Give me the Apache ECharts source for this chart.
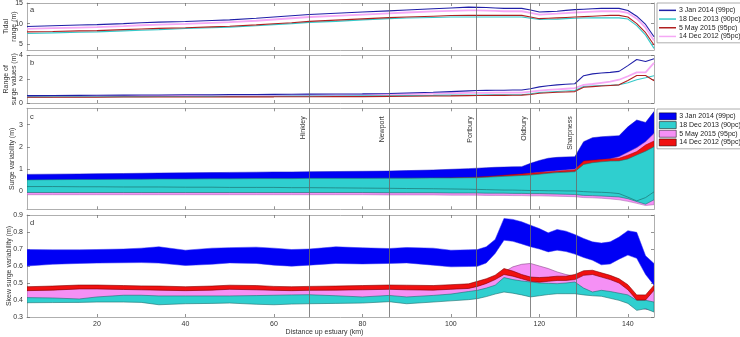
<!DOCTYPE html>
<html><head><meta charset="utf-8">
<script src="https://cdn.jsdelivr.net/npm/echarts@6/dist/echarts.min.js"></script>
<style>html,body{margin:0;padding:0;background:#fff}#c{width:740px;height:337px}</style>
</head><body><div id="c"></div>
<script>
// ---------------- data ----------------
const distanceKm = [4.2, 10, 16, 20, 26, 30, 34, 40, 46, 50, 56, 60, 64, 68, 74, 80, 86, 90, 96, 100, 104, 106, 108, 110, 112, 114, 116, 118, 120, 122, 124, 126, 128, 130, 132, 134, 136, 138, 140, 142, 144, 145.9];
const seriesNames = ['3 Jan 2014 (99pc)', '18 Dec 2013 (90pc)', '5 May 2015 (95pc)', '14 Dec 2012 (95pc)'];
const sites = ['Hinkley', 'Newport', 'Portbury', 'Oldbury', 'Sharpness'];
const siteKm = [68, 86, 105.8, 118, 128.3];
const xTicks = [20, 40, 60, 80, 100, 120, 140];
const yTicksA = [5, 10, 15];
const yTicksB = [0, 2, 4];
const yTicksC = [0, 1, 2, 3];
const yTicksD = [0.3, 0.4, 0.5, 0.6, 0.7, 0.8, 0.9];

// panel a: tidal range (m)
const tidalJan2014 = [9.3, 9.5, 9.65, 9.75, 10.0, 10.2, 10.35, 10.5, 10.75, 10.9, 11.3, 11.6, 11.9, 12.2, 12.5, 12.8, 13.1, 13.3, 13.6, 13.8, 14.0, 13.95, 13.9, 13.8, 13.7, 13.7, 13.7, 13.3, 12.8, 12.9, 13.0, 13.2, 13.4, 13.5, 13.6, 13.7, 13.7, 13.7, 13.2, 11.8, 9.8, 6.8];
const tidalDec2013 = [7.6, 7.75, 7.9, 8.0, 8.25, 8.4, 8.55, 8.8, 9.0, 9.15, 9.5, 9.75, 10.0, 10.3, 10.55, 10.9, 11.2, 11.35, 11.5, 11.6, 11.6, 11.6, 11.6, 11.6, 11.6, 11.6, 11.6, 11.3, 11.0, 11.05, 11.1, 11.2, 11.3, 11.35, 11.4, 11.4, 11.4, 11.4, 11.1, 9.5, 7.2, 4.0];
const tidalMay2015 = [8.0, 8.1, 8.25, 8.3, 8.55, 8.7, 8.85, 9.0, 9.2, 9.35, 9.7, 9.95, 10.2, 10.55, 10.85, 11.15, 11.45, 11.6, 11.8, 11.95, 12.0, 12.0, 12.0, 12.0, 12.0, 12.0, 12.0, 11.6, 11.2, 11.3, 11.4, 11.5, 11.6, 11.7, 11.8, 11.9, 12.0, 12.0, 11.6, 10.0, 7.8, 4.8];
const tidalDec2012 = [8.7, 8.9, 9.05, 9.15, 9.4, 9.6, 9.75, 9.95, 10.2, 10.35, 10.7, 11.0, 11.3, 11.6, 11.9, 12.2, 12.5, 12.7, 12.95, 13.1, 13.2, 13.2, 13.15, 13.1, 13.0, 13.0, 13.0, 12.6, 12.2, 12.3, 12.4, 12.55, 12.7, 12.8, 12.9, 13.0, 13.0, 13.0, 12.6, 11.2, 9.0, 5.9];

// panel b: range of surge values (m)
const rangeJan2014 = [0.62, 0.63, 0.64, 0.65, 0.66, 0.67, 0.68, 0.69, 0.7, 0.71, 0.72, 0.73, 0.74, 0.75, 0.76, 0.77, 0.8, 0.84, 0.9, 0.96, 1.02, 1.05, 1.06, 1.07, 1.08, 1.09, 1.1, 1.2, 1.36, 1.45, 1.53, 1.58, 1.62, 2.3, 2.45, 2.52, 2.58, 2.66, 3.15, 3.66, 3.5, 3.72];
const rangeDec2013 = [0.52, 0.52, 0.53, 0.53, 0.54, 0.54, 0.55, 0.55, 0.56, 0.56, 0.57, 0.57, 0.58, 0.58, 0.59, 0.6, 0.61, 0.62, 0.64, 0.66, 0.68, 0.68, 0.69, 0.69, 0.7, 0.7, 0.7, 0.78, 0.88, 0.93, 0.97, 1.01, 1.05, 1.39, 1.43, 1.47, 1.5, 1.53, 1.7, 1.96, 2.12, 2.3];
const rangeMay2015 = [0.48, 0.48, 0.49, 0.49, 0.5, 0.5, 0.5, 0.51, 0.51, 0.52, 0.52, 0.52, 0.53, 0.53, 0.54, 0.54, 0.56, 0.57, 0.59, 0.6, 0.62, 0.63, 0.63, 0.64, 0.64, 0.65, 0.66, 0.72, 0.82, 0.86, 0.9, 0.93, 0.96, 1.33, 1.38, 1.43, 1.48, 1.53, 1.9, 2.32, 2.32, 1.87];
const rangeDec2012 = [0.55, 0.56, 0.57, 0.58, 0.59, 0.6, 0.6, 0.61, 0.62, 0.62, 0.63, 0.64, 0.65, 0.66, 0.67, 0.68, 0.72, 0.75, 0.79, 0.82, 0.85, 0.86, 0.86, 0.87, 0.87, 0.88, 0.88, 0.95, 1.05, 1.1, 1.15, 1.2, 1.25, 1.53, 1.6, 1.7, 1.8, 1.96, 2.25, 2.58, 2.58, 3.38];

// panel c: surge variability (m), lower / upper bounds of each band
const surgeJan2014Lo = [0.02, 0.02, 0.02, 0.02, 0.02, 0.02, 0.02, 0.02, 0.02, 0.02, 0.02, 0.02, 0.02, 0.02, 0.02, 0.02, 0.01, 0.01, 0.01, 0.0, 0.0, 0.0, -0.01, -0.01, -0.01, -0.02, -0.02, -0.03, -0.03, -0.04, -0.05, -0.06, -0.07, -0.1, -0.11, -0.12, -0.14, -0.16, -0.2, -0.3, -0.35, -0.25];
const surgeJan2014Hi = [0.75, 0.76, 0.77, 0.78, 0.79, 0.8, 0.81, 0.82, 0.83, 0.84, 0.85, 0.86, 0.86, 0.87, 0.88, 0.89, 0.9, 0.92, 0.95, 0.98, 1.01, 1.03, 1.05, 1.07, 1.08, 1.09, 1.1, 1.25, 1.38, 1.48, 1.52, 1.54, 1.55, 2.23, 2.41, 2.45, 2.48, 2.5, 2.9, 3.21, 3.1, 3.59];
const surgeDec2013Lo = [-0.07, -0.07, -0.07, -0.07, -0.07, -0.07, -0.07, -0.07, -0.07, -0.07, -0.07, -0.07, -0.07, -0.07, -0.07, -0.07, -0.08, -0.08, -0.08, -0.09, -0.09, -0.09, -0.1, -0.1, -0.1, -0.11, -0.11, -0.12, -0.12, -0.13, -0.14, -0.15, -0.16, -0.2, -0.21, -0.23, -0.25, -0.27, -0.35, -0.48, -0.6, -0.4];
const surgeDec2013Mid = [0.2, 0.2, 0.19, 0.19, 0.18, 0.18, 0.18, 0.17, 0.17, 0.16, 0.16, 0.16, 0.15, 0.15, 0.14, 0.13, 0.12, 0.11, 0.1, 0.09, 0.08, 0.07, 0.06, 0.05, 0.04, 0.04, 0.03, 0.02, 0.02, 0.01, 0.01, 0.0, 0.0, -0.03, -0.05, -0.06, -0.08, -0.12, -0.28, -0.45, -0.3, -0.04];
const surgeDec2013Hi = [0.5, 0.51, 0.52, 0.52, 0.53, 0.53, 0.54, 0.54, 0.55, 0.55, 0.56, 0.56, 0.56, 0.57, 0.57, 0.57, 0.58, 0.58, 0.59, 0.59, 0.6, 0.6, 0.62, 0.64, 0.66, 0.68, 0.7, 0.72, 0.76, 0.8, 0.83, 0.85, 0.87, 1.2, 1.28, 1.32, 1.35, 1.36, 1.45, 1.63, 1.8, 2.0];
const surgeMay2015Lo = [-0.17, -0.17, -0.17, -0.17, -0.17, -0.17, -0.17, -0.17, -0.17, -0.17, -0.17, -0.17, -0.17, -0.17, -0.17, -0.17, -0.18, -0.18, -0.18, -0.19, -0.19, -0.19, -0.2, -0.2, -0.2, -0.21, -0.21, -0.22, -0.22, -0.23, -0.24, -0.25, -0.26, -0.3, -0.31, -0.33, -0.36, -0.4, -0.47, -0.56, -0.66, -0.62];
const surgeMay2015Hi = [0.4, 0.4, 0.41, 0.41, 0.42, 0.42, 0.42, 0.43, 0.43, 0.44, 0.44, 0.44, 0.45, 0.45, 0.46, 0.46, 0.47, 0.48, 0.5, 0.52, 0.55, 0.58, 0.6, 0.63, 0.66, 0.7, 0.74, 0.8, 0.84, 0.88, 0.91, 0.95, 0.98, 1.3, 1.36, 1.4, 1.45, 1.55, 1.75, 1.96, 2.23, 2.6];
const surgeDec2012Lo = [-0.04, -0.04, -0.04, -0.04, -0.04, -0.04, -0.04, -0.04, -0.04, -0.04, -0.04, -0.04, -0.04, -0.04, -0.04, -0.04, -0.05, -0.05, -0.05, -0.05, -0.06, -0.06, -0.06, -0.07, -0.07, -0.07, -0.08, -0.08, -0.09, -0.09, -0.1, -0.1, -0.11, -0.14, -0.15, -0.16, -0.18, -0.2, -0.26, -0.36, -0.45, -0.3];
const surgeDec2012Hi = [0.45, 0.46, 0.46, 0.47, 0.47, 0.48, 0.48, 0.49, 0.49, 0.5, 0.5, 0.51, 0.51, 0.52, 0.52, 0.53, 0.54, 0.55, 0.57, 0.59, 0.61, 0.63, 0.65, 0.68, 0.71, 0.74, 0.77, 0.8, 0.83, 0.86, 0.89, 0.92, 0.95, 1.36, 1.39, 1.42, 1.45, 1.48, 1.62, 1.78, 2.08, 2.26];

// panel d: skew surge variability (m)
const skewJan2014Lo = [0.6, 0.61, 0.615, 0.617, 0.619, 0.62, 0.617, 0.603, 0.61, 0.618, 0.615, 0.605, 0.599, 0.605, 0.615, 0.612, 0.615, 0.618, 0.605, 0.595, 0.597, 0.598, 0.618, 0.674, 0.752, 0.745, 0.73, 0.713, 0.7, 0.683, 0.693, 0.685, 0.67, 0.65, 0.634, 0.607, 0.612, 0.64, 0.664, 0.645, 0.55, 0.487];
const skewJan2014Hi = [0.697, 0.695, 0.695, 0.697, 0.7, 0.705, 0.713, 0.693, 0.705, 0.708, 0.711, 0.705, 0.697, 0.7, 0.713, 0.707, 0.703, 0.709, 0.705, 0.693, 0.695, 0.697, 0.713, 0.756, 0.88, 0.874, 0.86, 0.84, 0.82, 0.795, 0.815, 0.805, 0.785, 0.762, 0.742, 0.735, 0.742, 0.77, 0.808, 0.798, 0.66, 0.615];
const skewDec2013Lo = [0.384, 0.385, 0.386, 0.388, 0.388, 0.386, 0.372, 0.378, 0.38, 0.382, 0.375, 0.372, 0.376, 0.378, 0.38, 0.382, 0.39, 0.378, 0.388, 0.395, 0.402, 0.408, 0.42, 0.435, 0.447, 0.44, 0.43, 0.418, 0.425, 0.432, 0.437, 0.437, 0.437, 0.43, 0.425, 0.422, 0.41, 0.398, 0.38, 0.339, 0.349, 0.329];
const skewDec2013Hi = [0.414, 0.412, 0.406, 0.418, 0.428, 0.428, 0.424, 0.424, 0.424, 0.424, 0.426, 0.428, 0.43, 0.431, 0.425, 0.418, 0.427, 0.418, 0.427, 0.435, 0.45, 0.457, 0.47, 0.487, 0.532, 0.52, 0.512, 0.506, 0.5, 0.498, 0.496, 0.5, 0.506, 0.47, 0.447, 0.457, 0.45, 0.44, 0.43, 0.398, 0.398, 0.388];
const skewMay2015Lo = [0.395, 0.395, 0.39, 0.4, 0.41, 0.41, 0.405, 0.405, 0.405, 0.405, 0.41, 0.41, 0.41, 0.41, 0.41, 0.4, 0.41, 0.4, 0.41, 0.42, 0.43, 0.44, 0.45, 0.46, 0.47, 0.47, 0.46, 0.45, 0.45, 0.45, 0.45, 0.45, 0.45, 0.44, 0.44, 0.44, 0.43, 0.42, 0.4, 0.36, 0.345, 0.34];
const skewMay2015Hi = [0.458, 0.461, 0.468, 0.468, 0.465, 0.463, 0.461, 0.458, 0.461, 0.466, 0.463, 0.46, 0.458, 0.46, 0.461, 0.463, 0.466, 0.463, 0.461, 0.466, 0.471, 0.483, 0.5, 0.525, 0.565, 0.595, 0.61, 0.615, 0.6, 0.585, 0.565, 0.55, 0.54, 0.56, 0.56, 0.55, 0.535, 0.515, 0.48, 0.42, 0.42, 0.46];
const skewDec2012Lo = [0.455, 0.458, 0.465, 0.465, 0.462, 0.46, 0.458, 0.455, 0.458, 0.463, 0.46, 0.457, 0.455, 0.457, 0.458, 0.46, 0.463, 0.46, 0.458, 0.463, 0.468, 0.48, 0.497, 0.52, 0.55, 0.54, 0.525, 0.51, 0.505, 0.51, 0.515, 0.515, 0.52, 0.545, 0.55, 0.535, 0.52, 0.5, 0.46, 0.4, 0.4, 0.457];
const skewDec2012Hi = [0.478, 0.482, 0.488, 0.488, 0.485, 0.483, 0.482, 0.478, 0.482, 0.487, 0.485, 0.48, 0.478, 0.48, 0.482, 0.485, 0.488, 0.487, 0.485, 0.49, 0.495, 0.51, 0.525, 0.546, 0.585, 0.57, 0.55, 0.535, 0.532, 0.535, 0.54, 0.54, 0.55, 0.572, 0.575, 0.56, 0.545, 0.525, 0.49, 0.43, 0.43, 0.487];

// ---------------- styling ----------------
const FONT = 'Liberation Sans, Arial, sans-serif';
const TXT = '#333';
const AXC = '#9a9a9a';
const C = { blue: '#0000f5', cyan: '#2fcfcf', pink: '#f590f5', red: '#f01010' };
const LINEC = { blue: '#2020a8', cyan: '#35c9c9', red: '#b02020', pink: '#f5a8f5' };

const gridPos = [
  { top: 3, height: 47 },
  { top: 55.5, height: 47.5 },
  { top: 108.3, height: 101 },
  { top: 215, height: 102 }
];
const yRanges = [[3.6, 15], [0, 4], [-0.83, 3.74], [0.3, 0.9]];
const yTicks = [yTicksA, yTicksB, yTicksC, yTicksD];
const yNames = ['Tidal\nrange (m)', 'Range of\nsurge values (m)', 'Surge variability (m)', 'Skew surge variability (m)'];
const yNameGaps = [9, 9, 11, 14];
const panelLetters = ['a', 'b', 'c', 'd'];
const letterTops = [6, 59, 113, 219];

const pts = ys => distanceKm.map((x, i) => [x, ys[i]]);

const grid = gridPos.map(g => ({ left: 27, width: 627, top: g.top, height: g.height, containLabel: false, outerBoundsMode: 'none' }));

const xAxis = [];
for (let i = 0; i < 4; i++) {
  xAxis.push({
    type: 'value', gridIndex: i, min: 4.2, max: 145.9, position: 'bottom',
    axisLine: { show: true, onZero: false, lineStyle: { color: AXC, width: 0.8 } },
    axisTick: { show: true, inside: true, length: 3, customValues: xTicks, lineStyle: { color: '#666', width: 0.7 } },
    axisLabel: { show: i === 3, customValues: xTicks, fontSize: 7, color: TXT, fontFamily: FONT, margin: 4 },
    splitLine: { show: false },
    name: i === 3 ? 'Distance up estuary (km)' : '',
    nameLocation: 'middle', nameGap: 12, nameMoveOverlap: false,
    nameTextStyle: { fontSize: 7, color: TXT, fontFamily: FONT, padding: [0, 32, 0, 0] }
  });
}
for (let i = 0; i < 4; i++) {
  xAxis.push({
    type: 'value', gridIndex: i, min: 4.2, max: 145.9, position: 'top',
    axisLine: { show: true, onZero: false, lineStyle: { color: AXC, width: 0.8 } },
    axisTick: { show: true, inside: true, length: 3, customValues: xTicks, lineStyle: { color: '#666', width: 0.7 } },
    axisLabel: { show: false }, splitLine: { show: false }
  });
}
const yAxis = [];
for (let i = 0; i < 4; i++) {
  yAxis.push({
    type: 'value', gridIndex: i, min: yRanges[i][0], max: yRanges[i][1], position: 'left',
    axisLine: { show: true, onZero: false, lineStyle: { color: AXC, width: 0.8 } },
    axisTick: { show: true, inside: true, length: 3, customValues: yTicks[i], lineStyle: { color: '#666', width: 0.7 } },
    axisLabel: { show: true, customValues: yTicks[i], fontSize: 7, color: TXT, fontFamily: FONT, margin: 4 },
    splitLine: { show: false },
    name: yNames[i], nameLocation: 'middle', nameRotate: 90, nameGap: yNameGaps[i], nameMoveOverlap: false,
    nameTextStyle: { fontSize: 7, color: TXT, fontFamily: FONT, lineHeight: 8 }
  });
}
for (let i = 0; i < 4; i++) {
  yAxis.push({
    type: 'value', gridIndex: i, min: yRanges[i][0], max: yRanges[i][1], position: 'right',
    axisLine: { show: true, onZero: false, lineStyle: { color: AXC, width: 0.8 } },
    axisTick: { show: true, inside: true, length: 3, customValues: yTicks[i], lineStyle: { color: '#666', width: 0.7 } },
    axisLabel: { show: false }, splitLine: { show: false }
  });
}

function siteLines(gi) {
  return {
    silent: true, symbol: 'none', animation: false,
    lineStyle: { color: '#6a6a6a', width: 0.8, type: 'solid' },
    label: {
      show: gi === 2, position: 'insideEndTop', formatter: p => p.name,
      fontSize: 7, color: TXT, fontFamily: FONT, distance: 3, padding: [0, 5, 0, 0]
    },
    emphasis: { disabled: true },
    data: sites.map((s, k) => ({ name: s, xAxis: siteKm[k] }))
  };
}

function line(gi, name, ys, color, width) {
  return {
    type: 'line', name, xAxisIndex: gi, yAxisIndex: gi, data: pts(ys), symbol: 'none',
    lineStyle: { color, width }, animation: false, silent: true
  };
}

// a filled band between lower and upper curves, drawn through the axis scales (api.coord)
function band(gi, name, lo, hi, fill, edge, edgeW) {
  return {
    type: 'custom', name, coordinateSystem: 'cartesian2d', xAxisIndex: gi, yAxisIndex: gi,
    data: distanceKm.map((x, i) => [x, lo[i], hi[i]]),
    encode: { x: 0, y: [1, 2] },
    clip: true, silent: true, animation: false,
    itemStyle: { color: fill },
    renderItem: (params, api) => {
      if (params.dataIndexInside !== 0) return null;
      const n = params.dataInsideLength;
      const upper = [], lower = [];
      for (let j = 0; j < n; j++) {
        upper.push(api.coord([api.value(0, j), api.value(2, j)]));
        lower.push(api.coord([api.value(0, j), api.value(1, j)]));
      }
      return {
        type: 'polygon',
        shape: { points: upper.concat(lower.reverse()) },
        style: { fill, stroke: edge, lineWidth: edgeW }
      };
    }
  };
}

const series = [];
// panel a
series.push(line(0, seriesNames[3], tidalDec2012, LINEC.pink, 1.8));
series.push(line(0, seriesNames[1], tidalDec2013, LINEC.cyan, 1.1));
series.push(line(0, seriesNames[2], tidalMay2015, LINEC.red, 1.1));
const aTop = line(0, seriesNames[0], tidalJan2014, LINEC.blue, 1.1);
aTop.markLine = siteLines(0);
series.push(aTop);
// panel b
series.push(line(1, seriesNames[3], rangeDec2012, LINEC.pink, 1.8));
series.push(line(1, seriesNames[1], rangeDec2013, LINEC.cyan, 1.1));
series.push(line(1, seriesNames[2], rangeMay2015, LINEC.red, 1.1));
const bTop = line(1, seriesNames[0], rangeJan2014, LINEC.blue, 1.1);
bTop.markLine = siteLines(1);
series.push(bTop);
// panel c
series.push(band(2, seriesNames[0], surgeJan2014Lo, surgeJan2014Hi, C.blue, '#1010c0', 0.5));
series.push(band(2, seriesNames[2], surgeMay2015Lo, surgeMay2015Hi, C.pink, '#a060a8', 0.5));
series.push(band(2, seriesNames[3], surgeDec2012Lo, surgeDec2012Hi, C.red, '#a00000', 0.5));
series.push(band(2, seriesNames[1], surgeDec2013Lo, surgeDec2013Hi, C.cyan, '#1d7272', 0.6));
const cMid = line(2, 'cyan_inner', surgeDec2013Mid, '#1d7272', 0.7);
cMid.markLine = siteLines(2);
series.push(cMid);
// panel d
series.push(band(3, seriesNames[0], skewJan2014Lo, skewJan2014Hi, C.blue, '#3030f0', 0.5));
series.push(band(3, seriesNames[2], skewMay2015Lo, skewMay2015Hi, C.pink, '#8a4a8a', 0.6));
series.push(band(3, seriesNames[1], skewDec2013Lo, skewDec2013Hi, C.cyan, '#1d6e6e', 0.6));
const dRed = band(3, seriesNames[3], skewDec2012Lo, skewDec2012Hi, C.red, '#800000', 0.6);
dRed.markLine = siteLines(3);
series.push(dRed);

const legendBase = {
  orient: 'vertical', left: 657, icon: 'rect', itemWidth: 17, itemGap: 0,
  backgroundColor: '#fff', borderColor: '#9a9a9a', borderWidth: 0.8, borderRadius: 0,
  padding: [3, 2, 2, 2], selectedMode: false,
  textStyle: { fontSize: 7, color: '#222', fontFamily: FONT, lineHeight: 8.7, padding: [0, 0, 0, -2] }
};
const legendA = Object.assign({}, legendBase, {
  top: 3, itemHeight: 1.5,
  data: [
    { name: seriesNames[0], itemStyle: { color: LINEC.blue, borderWidth: 0 } },
    { name: seriesNames[1], itemStyle: { color: LINEC.cyan, borderWidth: 0 } },
    { name: seriesNames[2], itemStyle: { color: LINEC.red, borderWidth: 0 } },
    { name: seriesNames[3], itemStyle: { color: LINEC.pink, borderWidth: 0 } }
  ]
});
const legendC = Object.assign({}, legendBase, {
  top: 109, itemHeight: 7,
  data: [
    { name: seriesNames[0], itemStyle: { color: C.blue, borderColor: '#000', borderWidth: 0.5 } },
    { name: seriesNames[1], itemStyle: { color: C.cyan, borderColor: '#000', borderWidth: 0.5 } },
    { name: seriesNames[2], itemStyle: { color: C.pink, borderColor: '#000', borderWidth: 0.5 } },
    { name: seriesNames[3], itemStyle: { color: C.red, borderColor: '#000', borderWidth: 0.5 } }
  ]
});

const title = panelLetters.map((t, i) => ({
  text: t, left: 30, top: letterTops[i], padding: 0,
  textStyle: { fontSize: 7.5, fontWeight: 'normal', color: TXT, fontFamily: FONT }
}));

const chart = echarts.init(document.getElementById('c'), null, { renderer: 'canvas' });
chart.setOption({
  animation: false,
  backgroundColor: '#fff',
  title, grid, xAxis, yAxis, series,
  legend: [legendA, legendC]
});
</script>
</body></html>
